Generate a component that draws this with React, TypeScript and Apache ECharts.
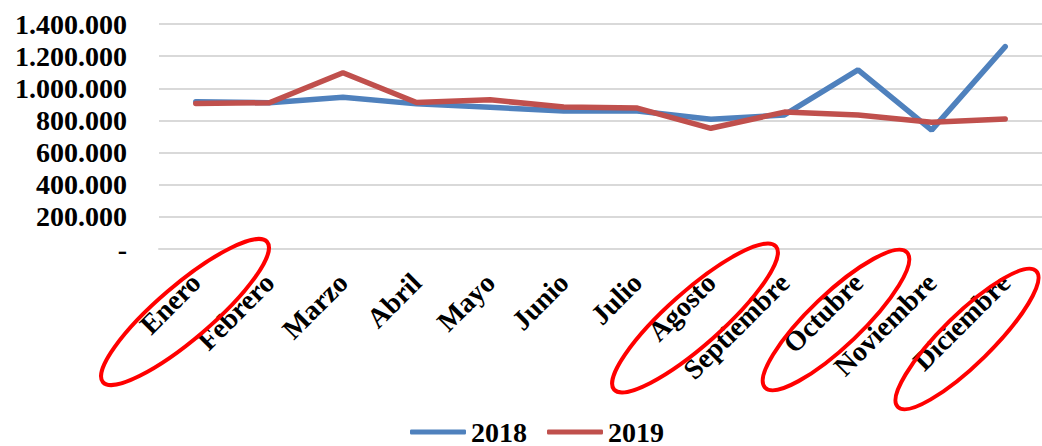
import React, { useEffect, useRef } from "react";
import * as echarts from "echarts";

const months = ["Enero", "Febrero", "Marzo", "Abril", "Mayo", "Junio", "Julio", "Agosto", "Septiembre", "Octubre", "Noviembre", "Diciembre"];
const values2018 = [916000, 910000, 944000, 903000, 882000, 859000, 859000, 807000, 834000, 1114000, 740000, 1259000];
const values2019 = [906000, 910000, 1097000, 912000, 928000, 883000, 877000, 751000, 852000, 834000, 788000, 809000];
const seriesNames = ["2018", "2019"];

// Hand-drawn red ellipse annotations (center x, center y, semi-axes, tilt in degrees)
const annotations = [
  { cx: 185, cy: 312, rx: 108, ry: 27, deg: 40.5 },
  { cx: 695, cy: 318, rx: 108, ry: 27, deg: 41.5 },
  { cx: 836, cy: 320, rx: 98, ry: 26, deg: 43.6 },
  { cx: 967, cy: 339, rx: 97, ry: 25, deg: 44.4 },
];

const FONT = "Liberation Serif";

function fmt(v: number): string {
  if (v === 0) return "-";
  return String(Math.round(v)).replace(/\B(?=(\d{3})+(?!\d))/g, ".");
}

export default function App() {
  const ref = useRef<HTMLDivElement>(null);
  useEffect(() => {
    if (!ref.current) return;
    const chart = echarts.init(ref.current, undefined, { renderer: "svg" });
    chart.setOption({
      animation: false,
      backgroundColor: "#ffffff",
      grid: { left: 159, right: -11, top: 24, bottom: 197, containLabel: false },
      xAxis: {
        type: "category",
        data: months,
        boundaryGap: true,
        axisLine: { show: true, lineStyle: { color: "#D9D9D9", width: 2 } },
        axisTick: { show: false },
        axisLabel: {
          interval: 0,
          rotate: 45,
          margin: 29,
          color: "#000",
          fontFamily: FONT,
          fontWeight: "bold",
          fontSize: 28,
        },
      },
      yAxis: {
        type: "value",
        min: 0,
        max: 1400000,
        interval: 200000,
        axisLine: { show: false },
        axisTick: { show: false },
        splitLine: { show: true, lineStyle: { color: "#D9D9D9", width: 2 } },
        axisLabel: {
          margin: 32,
          color: "#000",
          fontFamily: FONT,
          fontWeight: "bold",
          fontSize: 28,
          formatter: (v: number) => fmt(v),
        },
      },
      legend: {
        left: 405,
        top: 413,
        icon: "roundRect",
        itemWidth: 56,
        itemHeight: 5,
        itemGap: 20,
        textStyle: { color: "#000", fontFamily: FONT, fontWeight: "bold", fontSize: 28, lineHeight: 28, padding: [0, 0, 0, 0] },
        data: seriesNames,
      },
      series: [
        {
          name: seriesNames[0],
          type: "line",
          data: values2018,
          symbol: "none",
          color: "#4F81BD",
          lineStyle: { color: "#4F81BD", width: 5.5, cap: "round" },
        },
        {
          name: seriesNames[1],
          type: "line",
          data: values2019,
          symbol: "none",
          color: "#C0504D",
          lineStyle: { color: "#C0504D", width: 5.5, cap: "round" },
        },
      ],
      graphic: annotations.map((a) => ({
        type: "ellipse",
        x: a.cx,
        y: a.cy,
        rotation: (a.deg * Math.PI) / 180,
        shape: { cx: 0, cy: 0, rx: a.rx, ry: a.ry },
        style: { fill: "none", stroke: "#FF0000", lineWidth: 4 },
        z: 100,
      })),
    });
    return () => chart.dispose();
  }, []);
  return <div ref={ref} style={{ position: "fixed", left: 0, top: 0, width: 1042, height: 446 }} />;
}
